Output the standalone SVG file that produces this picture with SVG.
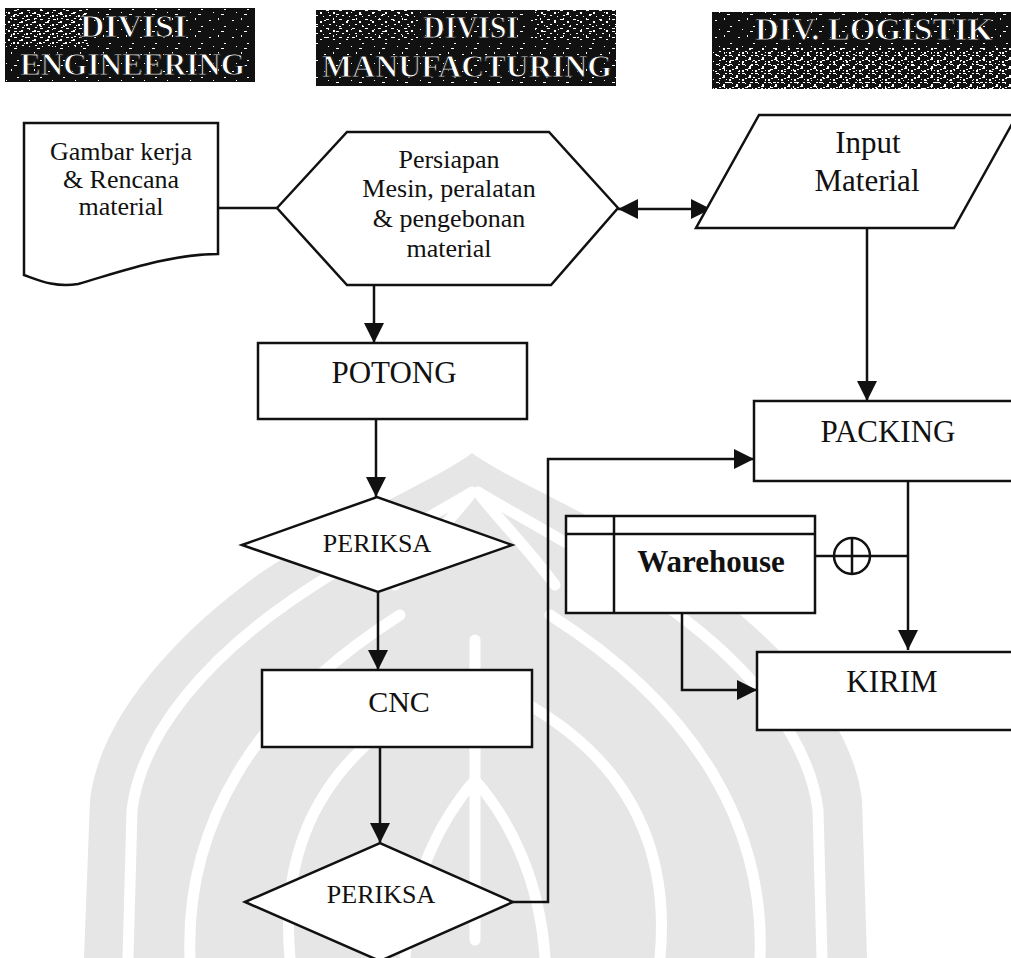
<svg xmlns="http://www.w3.org/2000/svg" width="1011" height="958" viewBox="0 0 1011 958">
<defs>
<style>
.shp{fill:#fff;stroke:#111;stroke-width:2.5}
.ln{fill:none;stroke:#111;stroke-width:2.5}
.t{font-family:"Liberation Serif","Times New Roman",serif;fill:#111;text-anchor:middle}
.hd{font-family:"Liberation Serif","Times New Roman",serif;font-weight:bold;fill:#fff;stroke:#111;stroke-width:1;font-size:32px}
.wm{fill:none;stroke:#fff;stroke-width:11;stroke-linecap:round}
</style>
<marker id="ah" viewBox="0 0 20 20" refX="20" refY="10" markerWidth="20" markerHeight="20" markerUnits="userSpaceOnUse" orient="auto-start-reverse">
<path d="M0,0 L20,10 L0,20 Z" fill="#111"/>
</marker>
<pattern id="spk" width="23" height="17" patternUnits="userSpaceOnUse">
<rect x="2" y="3" width="2" height="1" fill="#fff"/>
<rect x="11" y="1" width="1" height="2" fill="#fff"/>
<rect x="17" y="9" width="2" height="1" fill="#fff"/>
<rect x="6" y="12" width="1" height="1" fill="#fff"/>
<rect x="14" y="14" width="3" height="1" fill="#fff"/>
</pattern>
<pattern id="spk2" width="13" height="9" patternUnits="userSpaceOnUse">
<rect x="1" y="1" width="3" height="1" fill="#fff"/>
<rect x="8" y="3" width="2" height="2" fill="#fff"/>
<rect x="4" y="6" width="2" height="1" fill="#fff"/>
<rect x="11" y="7" width="1" height="1" fill="#fff"/>
</pattern>
</defs>
<rect width="1011" height="958" fill="#fff"/>

<g id="watermark">
<path d="M472,453 C440,478 340,520 262,572 C180,630 100,715 90,800 L84,958 L867,958 L862,800 C852,715 770,630 684,572 C606,520 505,478 472,453 Z" fill="#e6e6e6"/>
<path class="wm" d="M472,492 C440,512 362,552 292,600 C212,655 142,730 132,810 L128,958"/>
<path class="wm" d="M478,492 C510,512 588,552 658,600 C738,655 808,730 818,810 L822,958"/>
<path class="wm" d="M190,958 C185,830 250,710 400,615"/>
<path class="wm" d="M760,958 C765,830 700,710 550,615"/>
<path class="wm" d="M290,958 C280,850 320,760 430,700"/>
<path class="wm" d="M660,958 C670,850 630,760 520,700"/>
<path class="wm" d="M475,940 L475,640"/>
<path class="wm" d="M405,958 C410,880 440,820 475,780"/>
<path class="wm" d="M545,958 C540,880 510,820 475,780"/>
<path class="wm" d="M395,585 C425,545 455,515 470,495"/>
<path class="wm" d="M555,585 C525,545 495,515 480,495"/>
</g>

<g id="hdr-engineering">
<rect x="5" y="8" width="250" height="74" fill="#111"/>
<rect x="5" y="8" width="250" height="74" fill="url(#spk)"/>
<rect x="5" y="8" width="80" height="36" fill="url(#spk2)"/>
<rect x="5" y="8" width="80" height="36" fill="url(#spk2)" transform="translate(5,3)"/>
<text class="hd" x="80" y="37" textLength="107" lengthAdjust="spacingAndGlyphs">DIVISI</text>
<text class="hd" x="20" y="75" textLength="225" lengthAdjust="spacingAndGlyphs">ENGINEERING</text>
</g>

<g id="hdr-manufacturing">
<rect x="316" y="10" width="300" height="76" fill="#111"/>
<rect x="316" y="10" width="300" height="76" fill="url(#spk)"/>
<rect x="316" y="10" width="100" height="30" fill="url(#spk2)"/>
<rect x="535" y="10" width="81" height="30" fill="url(#spk2)"/>
<text class="hd" x="423" y="38" textLength="95" lengthAdjust="spacingAndGlyphs">DIVISI</text>
<text class="hd" x="322" y="77" textLength="290" lengthAdjust="spacingAndGlyphs" style="font-size:31px">MANUFACTURING</text>
</g>

<g id="hdr-logistik">
<rect x="712" y="12" width="299" height="77" fill="#111"/>
<rect x="712" y="12" width="299" height="77" fill="url(#spk)"/>
<rect x="712" y="48" width="299" height="41" fill="url(#spk2)"/>
<rect x="712" y="48" width="299" height="41" fill="url(#spk2)" transform="translate(6,4)"/>
<text class="hd" x="755" y="40" textLength="238" lengthAdjust="spacingAndGlyphs">DIV. LOGISTIK</text>
</g>

<g id="connectors">
<path class="ln" d="M218,208 H277"/>
<path class="ln" d="M618,209 H711" marker-start="url(#ah)" marker-end="url(#ah)"/>
<path class="ln" d="M374,285 V343" marker-end="url(#ah)"/>
<path class="ln" d="M376,419 V497" marker-end="url(#ah)"/>
<path class="ln" d="M378,592 V670" marker-end="url(#ah)"/>
<path class="ln" d="M380,747 V843" marker-end="url(#ah)"/>
<path class="ln" d="M513,902 H548 V459 H754" marker-end="url(#ah)"/>
<path class="ln" d="M867,228 V401" marker-end="url(#ah)"/>
<path class="ln" d="M908,481 V650" marker-end="url(#ah)"/>
<path class="ln" d="M815,556 H908"/>
<path class="ln" d="M682,613 V690 H757" marker-end="url(#ah)"/>
<circle cx="852" cy="556" r="18" class="shp"/>
<path class="ln" d="M834,556 H870 M852,538 V574"/>
</g>

<g id="gambar">
<path class="shp" d="M24,123 H218 V254 C170,254 120,272 78,284 C55,288 38,280 24,275 Z"/>
<text class="t" font-size="26" x="121" y="160">Gambar kerja</text>
<text class="t" font-size="26" x="121" y="188">&amp; Rencana</text>
<text class="t" font-size="26" x="121" y="215">material</text>
</g>

<g id="persiapan">
<polygon class="shp" points="277,208 347,132 549,132 618,208 551,285 347,285"/>
<text class="t" font-size="26" x="449" y="168">Persiapan</text>
<text class="t" font-size="26" x="449" y="197">Mesin, peralatan</text>
<text class="t" font-size="26" x="449" y="227">&amp; pengebonan</text>
<text class="t" font-size="26" x="449" y="257">material</text>
</g>

<g id="input">
<polygon class="shp" points="759,115 1017,115 954,228 696,228"/>
<text class="t" font-size="31" x="868" y="153">Input</text>
<text class="t" font-size="31" x="867" y="191">Material</text>
</g>

<g id="potong">
<rect class="shp" x="258" y="343" width="269" height="76"/>
<text class="t" font-size="31" x="394" y="383">POTONG</text>
</g>

<g id="periksa1">
<polygon class="shp" points="242,545 377,497 512,545 378,592"/>
<text class="t" font-size="26" x="377" y="552">PERIKSA</text>
</g>

<g id="cnc">
<rect class="shp" x="262" y="670" width="270" height="77"/>
<text class="t" font-size="30" x="399" y="712">CNC</text>
</g>

<g id="periksa2">
<polygon class="shp" points="245,902 380,843 513,902 380,961"/>
<text class="t" font-size="26" x="381" y="903">PERIKSA</text>
</g>

<g id="packing">
<rect class="shp" x="754" y="401" width="270" height="80"/>
<text class="t" font-size="31" x="888" y="442">PACKING</text>
</g>

<g id="warehouse">
<rect class="shp" x="566" y="516" width="249" height="97"/>
<path class="ln" d="M566,534 H815 M614,516 V613"/>
<text class="t" font-size="31" font-weight="bold" x="711" y="572">Warehouse</text>
</g>

<g id="kirim">
<rect class="shp" x="757" y="652" width="270" height="78"/>
<text class="t" font-size="31" x="892" y="692">KIRIM</text>
</g>
</svg>
